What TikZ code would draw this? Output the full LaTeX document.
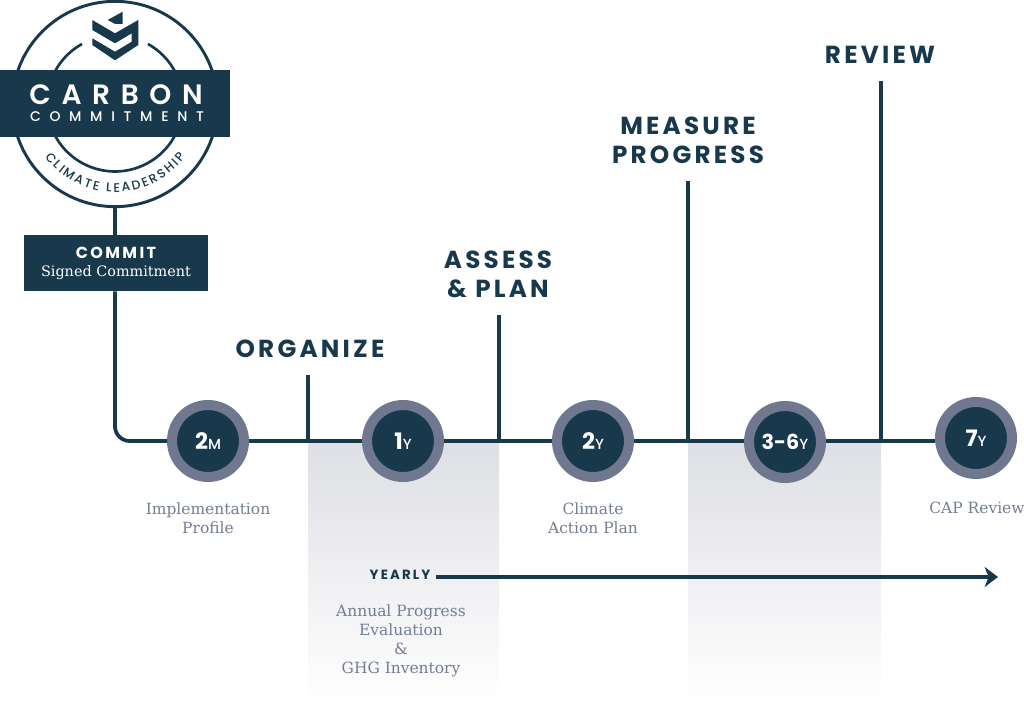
\documentclass[tikz,border=0pt]{standalone}
\usepackage{fontspec}
\usepackage{tikz}
\usetikzlibrary{arrows.meta,decorations.text}
\setmainfont{DejaVu Serif}
\newfontfamily\headfont[LetterSpace=13]{Poppins Bold}
\newfontfamily\boxfont[LetterSpace=15]{Poppins Bold}
\newfontfamily\yearfont[LetterSpace=16]{Poppins Bold}
\newfontfamily\bandfont[LetterSpace=38]{Poppins SemiBold}
\newfontfamily\bandsub[LetterSpace=62]{Poppins Medium}
\newfontfamily\arcfont{Poppins Medium}
\newfontfamily\stepfont{Poppins Bold}
\newfontfamily\unitfont{Poppins Medium}
\definecolor{navy}{HTML}{18384B}
\definecolor{ring}{HTML}{70788F}
\definecolor{slate}{HTML}{747D95}
\definecolor{haze}{HTML}{DEDFE4}
\tikzset{
  line/.style={navy,line width=2.8pt},
  heading/.style={navy,align=center,inner sep=0pt,font=\headfont\fontsize{18.5}{21.75}\selectfont},
  stepdot/.style={circle,draw=ring,fill=navy,line width=7.5pt,minimum size=54pt,inner sep=0pt,text=white,font=\stepfont\fontsize{17}{18}\selectfont},
  caption/.style={slate,align=center,inner sep=0pt,font=\fontsize{11.6}{14.4}\selectfont}
}
\newcommand{\unitmark}[1]{{\unitfont\fontsize{11}{12}\selectfont #1}}
\begin{document}
\begin{tikzpicture}[x=0.75pt,y=-0.75pt]
\useasboundingbox (0,0) rectangle (1024,716);
\shade[top color=haze,bottom color=white] (308,441) rectangle (499,702);
\shade[top color=haze,bottom color=white] (688,441) rectangle (881,702);
% logo
\node[circle,draw=navy,line width=2.2pt,minimum size=154pt,inner sep=0pt] (seal) at (115,104) {};
\draw[navy,line width=2pt] (82,44) arc[start angle=241,end angle=-61,radius=68];
\fill[navy] (107.7,20) -- (122.7,11.7) -- (122.7,24) -- (115.3,24) -- cycle;
\fill[navy] (92.3,20) -- (115,33.3) -- (138.3,20) -- (138.3,45) -- (115,60.3) -- (92.3,45) -- (92.3,38.3) -- (115,51.7) -- (131.7,41.7) -- (131.7,33.3) -- (115,43.3) -- (92.3,30) -- cycle;
\path[decorate,decoration={text along path,text align={fit to path},
    text={|\arcfont\fontsize{9.4}{10}\selectfont\color{navy}|CLIMATE LEADERSHIP}}]
    (115,104) ++(143:88) arc[start angle=143,end angle=37,radius=88];
\node[fill=navy,minimum width=172.5pt,minimum height=50.25pt,inner sep=0pt] (band) at (115,103.5) {};
\node[text=white,inner sep=0pt,font=\bandfont\fontsize{21}{24}\selectfont] (carbon) at (116,95) {CARBON};
\node[text=white,inner sep=0pt,font=\bandsub\fontsize{10.5}{12}\selectfont] (commitment) at (117,117) {COMMITMENT};
\node[fill=navy,text=white,align=center,minimum width=138pt,minimum height=42pt,inner sep=0pt] (commit) at (116,263)
    {{\boxfont\fontsize{12}{15}\selectfont COMMIT}\\[1.5pt]{\fontsize{10.8}{12}\selectfont Signed Commitment}};
% steps
\node[stepdot] (twom) at (208,441) {2\unitmark{M}};
\node[stepdot] (oney) at (403,441) {1\unitmark{Y}};
\node[stepdot] (twoy) at (593,441) {2\unitmark{Y}};
\node[stepdot] (midy) at (785,442) {{\fontsize{15.5}{18}\selectfont 3-6}\unitmark{Y}};
\node[stepdot] (seveny) at (976,438) {7\unitmark{Y}};
\coordinate (organizetop) at (308,375);
\coordinate (organizefoot) at (308,441);
\coordinate (assesstop) at (499,315);
\coordinate (assessfoot) at (499,441);
\coordinate (measuretop) at (688,181);
\coordinate (measurefoot) at (688,441);
\coordinate (reviewtop) at (881,81);
\coordinate (reviewfoot) at (881,441);
\coordinate (bend) at (115,441);
\draw[line] (seal) -- (seal |- commit.north);
\draw[line,rounded corners=11pt] (bend |- commit.south) -- (bend) -- (twom);
\draw[line] (twom) -- (oney);
\draw[line] (oney) -- (twoy);
\draw[line] (twoy) -- (midy.west |- twoy);
\draw[line] (midy.east |- reviewfoot) -- (reviewfoot) -- (reviewfoot -| seveny.west);
\draw[line] (organizetop) -- (organizefoot);
\draw[line] (assesstop) -- (assessfoot);
\draw[line] (measuretop) -- (measurefoot);
\draw[line] (reviewtop) -- (reviewfoot);
% headings
\node[heading] (organize) at (310,349) {ORGANIZE};
\node[heading] (assess) at (498,274) {ASSESS\\\& PLAN};
\node[heading] (measure) at (688,140) {MEASURE\\PROGRESS};
\node[heading] (review) at (880,55) {REVIEW};
% captions
\node[caption] (impl) at (208,518) {Implementation\\Profile};
\node[caption] (plan) at (593,518) {Climate\\Action Plan};
\node[caption] (cap) at (977,508) {CAP Review};
\node[caption] (annual) at (401,641) {Annual Progress\\Evaluation\\\&\\GHG Inventory};
% yearly arrow
\node[navy,inner sep=0pt,font=\yearfont\fontsize{10}{12}\selectfont] (yearly) at (400,575) {YEARLY};
\coordinate (yearend) at (998,577);
\draw[navy,line width=3pt,-{Stealth[length=10pt,width=15pt,inset=3pt]}] (436,577) -- (yearend);
\end{tikzpicture}
\end{document}
